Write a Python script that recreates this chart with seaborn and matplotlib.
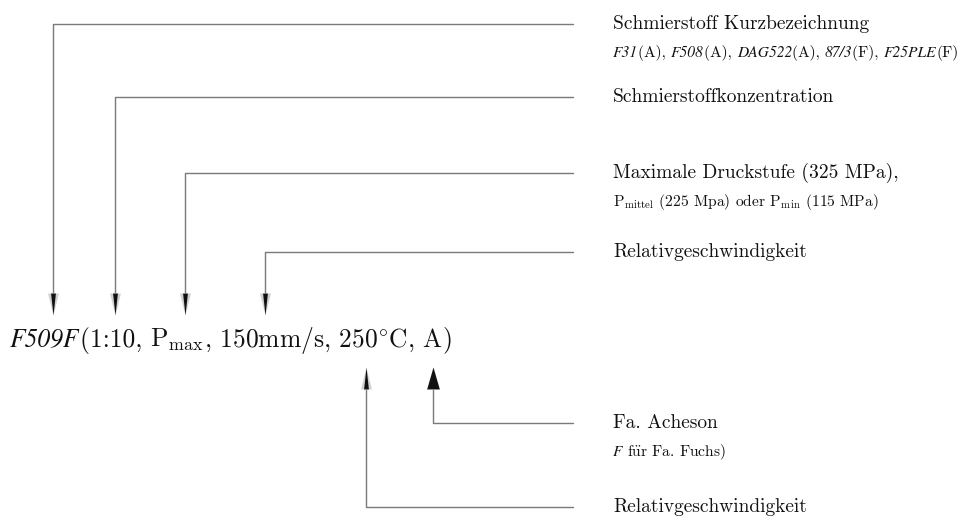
import matplotlib
matplotlib.use('Agg')  # no display
import matplotlib.pyplot as plt
from matplotlib.path import Path
from matplotlib.offsetbox import TextArea, HPacker, AnnotationBbox
import seaborn as sns
import pandas as pd

# --- labels (content); True marks italic pieces ---
main_code = [("F509F", True), ("(1:10, ", False), (r"$\mathrm{P}_{\mathrm{max}}$", False),
             (r", 150mm/s, 250$^{\circ}$C, A)", False)]

top_labels = ["Schmierstoff Kurzbezeichnung",
              "Schmierstoffkonzentration",
              "Maximale Druckstufe (325 MPa),",
              "Relativgeschwindigkeit"]
top_notes = [[("F31", True), ("(A), ", False), ("F508", True), ("(A), ", False),
              ("DAG522", True), ("(A), ", False), ("87/3", True), ("(F), ", False),
              ("F25PLE", True), ("(F)", False)],
             [],
             [(r"$\mathrm{P}_{\mathrm{mittel}}$ (225 Mpa) oder $\mathrm{P}_{\mathrm{min}}$ (115 MPa)", False)],
             []]
bottom_labels = ["Fa. Acheson", "Relativgeschwindigkeit"]
bottom_notes = [[("F", True), (r" f$\ddot{\mathrm{u}}$r Fa. Fuchs)", False)], []]

# --- layout (pixel space, y downwards) ---
top_anchor_x = [53, 115, 185, 265]
top_line_y = [24, 97, 173, 252]
bottom_anchor_x = [433, 366]
bottom_line_y = [423, 507]
line_end_x = 573
label_x = 613
top_head = (293, 315)     # head base / tip
bottom_head = (389, 367)
blurry_bottom = [False, True]

sns.set_theme(style='white')
plt.rcParams['mathtext.fontset'] = 'cm'
plt.rcParams['font.family'] = ['cmr10', 'DejaVu Serif']
INK = '#111111'

fig = plt.figure(figsize=(9.64, 5.16), dpi=100)
ax = fig.add_axes([0, 0, 1, 1])
ax.set_xlim(0, 964)
ax.set_ylim(516, 0)
ax.axis('off')

# connector polylines
rows = []
for i, (x, y) in enumerate(zip(top_anchor_x, top_line_y)):
    for px, py in [(x, top_head[0]), (x, y), (line_end_x, y)]:
        rows.append({'id': f't{i}', 'x': px, 'y': py})
for i, (x, y) in enumerate(zip(bottom_anchor_x, bottom_line_y)):
    for px, py in [(x, bottom_head[0]), (x, y), (line_end_x, y)]:
        rows.append({'id': f'b{i}', 'x': px, 'y': py})
lines = pd.DataFrame(rows)
sns.lineplot(data=lines, x='x', y='y', units='id', estimator=None, sort=False,
             color='#7a7a7a', linewidth=1.0, ax=ax, legend=False)

# arrow heads as marker paths
def head(w, up):
    t = 1 if up else -1
    return Path([(-w, -t), (w, -t), (0, t), (-w, -t)],
                [Path.MOVETO, Path.LINETO, Path.LINETO, Path.CLOSEPOLY])

hsize = 250
top_heads = pd.DataFrame({'x': top_anchor_x, 'y': [sum(top_head) / 2] * len(top_anchor_x)})
sns.scatterplot(data=top_heads, x='x', y='y', marker=head(0.5, False), s=hsize,
                color='#222222', alpha=0.2, linewidth=0, ax=ax)
sns.scatterplot(data=top_heads, x='x', y='y', marker=head(0.22, False), s=hsize,
                color=INK, linewidth=0, ax=ax)

bot = pd.DataFrame({'x': bottom_anchor_x, 'y': [sum(bottom_head) / 2] * len(bottom_anchor_x),
                    'blur': blurry_bottom})
solid = bot[~bot['blur']]
blur = bot[bot['blur']]
sns.scatterplot(data=solid, x='x', y='y', marker=head(0.58, True), s=hsize,
                color=INK, linewidth=0, ax=ax)
sns.scatterplot(data=blur, x='x', y='y', marker=head(0.5, True), s=hsize,
                color='#222222', alpha=0.2, linewidth=0, ax=ax)
sns.scatterplot(data=blur, x='x', y='y', marker=head(0.22, True), s=hsize,
                color=INK, linewidth=0, ax=ax)


def rich_text(x, y, parts, size):
    """Mixed upright / italic text, baseline-aligned, left edge at x, centred on y."""
    boxes = []
    for txt, italic in parts:
        props = dict(fontsize=size, color=INK)
        if italic:
            props.update(family='STIXGeneral', style='italic')
        boxes.append(TextArea(txt, textprops=props))
    pack = HPacker(children=boxes, align='baseline', pad=0, sep=0)
    ab = AnnotationBbox(pack, (x, y), xycoords='data', box_alignment=(0, 0.5),
                        frameon=False, pad=0)
    ax.add_artist(ab)


rich_text(10, 340, main_code, 18.4)
for lab, note, y in zip(top_labels + bottom_labels, top_notes + bottom_notes,
                        top_line_y + bottom_line_y):
    ax.text(label_x, y, lab, fontsize=14, va='center', ha='left', color=INK)
    if note:
        rich_text(label_x, y + 29, note, 11.2)

fig.savefig('out.png', dpi=100)
plt.close(fig)
